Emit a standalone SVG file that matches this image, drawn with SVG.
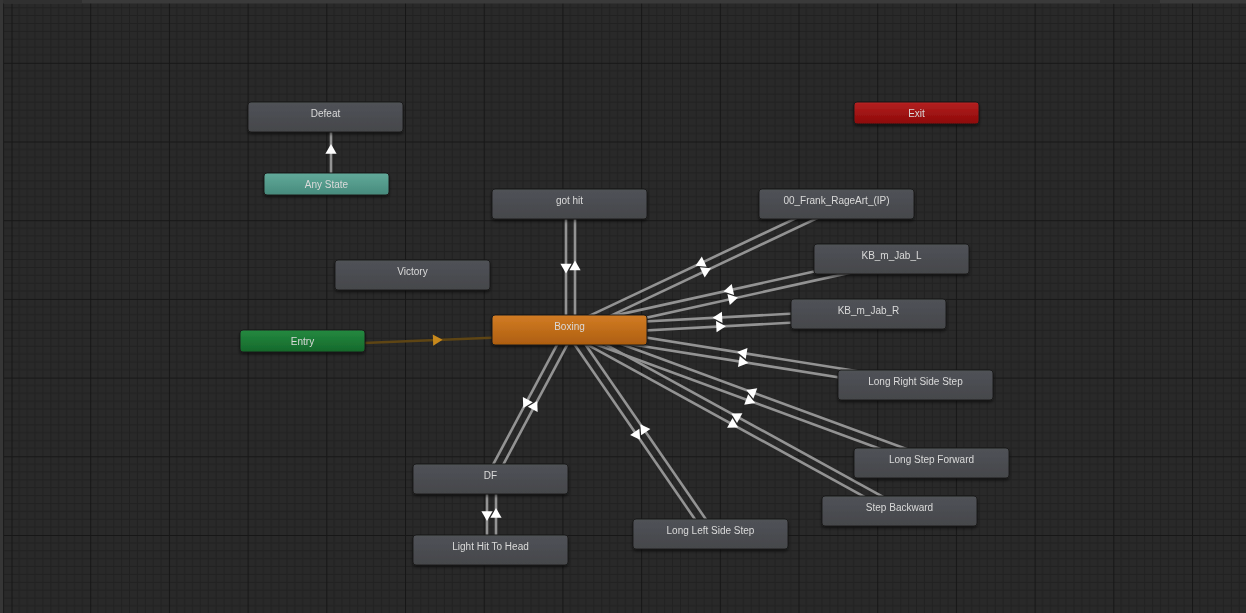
<svg xmlns="http://www.w3.org/2000/svg" xmlns:xlink="http://www.w3.org/1999/xlink" width="1246" height="613" viewBox="0 0 1246 613">
<style>
.b{stroke:#1d1d1d;stroke-width:1}
.t{font-family:"Liberation Sans",Arial,sans-serif;font-size:10px;fill:#dadada;text-anchor:middle}
.c line{stroke:#939393;stroke-width:2.6}
.c .e{stroke:#5e4514;stroke-width:2.4}
</style>
<defs>
<pattern id="grid" patternUnits="userSpaceOnUse" x="11.5" y="62.8" width="78.7" height="78.7">
<rect width="78.7" height="78.7" fill="#292929"/>
<path d="M7.87,0V78.7M15.74,0V78.7M23.61,0V78.7M31.48,0V78.7M39.35,0V78.7M47.22,0V78.7M55.09,0V78.7M62.96,0V78.7M70.83,0V78.7M0,7.87H78.7M0,15.74H78.7M0,23.61H78.7M0,31.48H78.7M0,39.35H78.7M0,47.22H78.7M0,55.09H78.7M0,62.96H78.7M0,70.83H78.7" stroke="#212121" stroke-width="1" fill="none"/>
<path d="M0.5,0V78.7M0,0.5H78.7" stroke="#171717" stroke-width="1.2" fill="none"/>
</pattern>
<linearGradient id="gGray" x1="0" y1="0" x2="0" y2="1"><stop offset="0" stop-color="#505257"/><stop offset="1" stop-color="#45474b"/></linearGradient>
<linearGradient id="gOrange" x1="0" y1="0" x2="0" y2="1"><stop offset="0" stop-color="#d27c24"/><stop offset="1" stop-color="#ad5e10"/></linearGradient>
<linearGradient id="gGreen" x1="0" y1="0" x2="0" y2="1"><stop offset="0" stop-color="#248a40"/><stop offset="1" stop-color="#15682b"/></linearGradient>
<linearGradient id="gTeal" x1="0" y1="0" x2="0" y2="1"><stop offset="0" stop-color="#62aa9a"/><stop offset="1" stop-color="#468a7c"/></linearGradient>
<linearGradient id="gRed" x1="0" y1="0" x2="0" y2="1"><stop offset="0" stop-color="#b52222"/><stop offset="1" stop-color="#8c0707"/></linearGradient>
<filter id="sh" x="-10%" y="-30%" width="120%" height="170%"><feDropShadow dx="0" dy="2" stdDeviation="1.5" flood-color="#000" flood-opacity="0.5"/></filter>
<path id="arr" d="M6.4,0L-3.2,-5.6L-3.2,5.6Z" fill="#ffffff"/>
<path id="arrE" d="M6.4,0L-3.2,-5.6L-3.2,5.6Z" fill="#c8891c"/>
</defs>
<rect width="1246" height="613" fill="url(#grid)"/>

<g id="connectors" class="c">
<line x1="331" y1="184" x2="331" y2="117"/>
<use xlink:href="#arr" transform="translate(331,150.5) rotate(-90)"/>
<line class="e" x1="302.7" y1="345.5" x2="569.7" y2="334.5"/>
<use xlink:href="#arrE" transform="translate(436.2,340) rotate(-2.36)"/>
<line x1="566" y1="204" x2="566" y2="330"/>
<line x1="575" y1="330" x2="575" y2="204"/>
<use xlink:href="#arr" transform="translate(566,267) rotate(90)"/>
<use xlink:href="#arr" transform="translate(575,267) rotate(-90)"/>
<line x1="571.92" y1="334.07" x2="838.42" y2="208.07"/>
<line x1="834.58" y1="199.93" x2="568.08" y2="325.93"/>
<use xlink:href="#arr" transform="translate(705.17,271.07) rotate(-25.3)"/>
<use xlink:href="#arr" transform="translate(701.33,262.93) rotate(154.7)"/>
<line x1="570.97" y1="334.39" x2="892.47" y2="263.39"/>
<line x1="890.53" y1="254.61" x2="569.03" y2="325.61"/>
<use xlink:href="#arr" transform="translate(731.72,298.89) rotate(-12.45)"/>
<use xlink:href="#arr" transform="translate(729.78,290.11) rotate(167.55)"/>
<line x1="570.24" y1="334.49" x2="868.74" y2="318.49"/>
<line x1="868.26" y1="309.51" x2="569.76" y2="325.51"/>
<use xlink:href="#arr" transform="translate(719.49,326.49) rotate(-3.07)"/>
<use xlink:href="#arr" transform="translate(719.01,317.51) rotate(176.93)"/>
<line x1="569.29" y1="334.44" x2="914.79" y2="389.44"/>
<line x1="916.21" y1="380.56" x2="570.71" y2="325.56"/>
<use xlink:href="#arr" transform="translate(742.04,361.94) rotate(9.05)"/>
<use xlink:href="#arr" transform="translate(743.46,353.06) rotate(-170.95)"/>
<line x1="568.45" y1="334.22" x2="929.95" y2="467.22"/>
<line x1="933.05" y1="458.78" x2="571.55" y2="325.78"/>
<use xlink:href="#arr" transform="translate(749.2,400.72) rotate(20.2)"/>
<use xlink:href="#arr" transform="translate(752.3,392.28) rotate(-159.8)"/>
<line x1="567.83" y1="333.94" x2="897.33" y2="514.94"/>
<line x1="901.67" y1="507.06" x2="572.17" y2="326.06"/>
<use xlink:href="#arr" transform="translate(732.58,424.44) rotate(28.78)"/>
<use xlink:href="#arr" transform="translate(736.92,416.56) rotate(-151.22)"/>
<line x1="566.29" y1="332.55" x2="706.79" y2="536.55"/>
<line x1="714.21" y1="531.45" x2="573.71" y2="327.45"/>
<use xlink:href="#arr" transform="translate(636.54,434.55) rotate(55.45)"/>
<use xlink:href="#arr" transform="translate(643.96,429.45) rotate(-124.55)"/>
<line x1="566.03" y1="327.88" x2="486.53" y2="476.88"/>
<line x1="494.47" y1="481.12" x2="573.97" y2="332.12"/>
<use xlink:href="#arr" transform="translate(526.28,402.38) rotate(118.08)"/>
<use xlink:href="#arr" transform="translate(534.22,406.62) rotate(-61.92)"/>
<line x1="487" y1="479" x2="487" y2="550"/>
<line x1="496" y1="550" x2="496" y2="479"/>
<use xlink:href="#arr" transform="translate(487,514.5) rotate(90)"/>
<use xlink:href="#arr" transform="translate(496,514.5) rotate(-90)"/>
</g>

<g id="node-defeat" filter="url(#sh)"><rect class="b" x="248" y="102" width="155" height="30" rx="3" fill="url(#gGray)"/><text class="t" x="325.5" y="117">Defeat</text></g>
<g id="node-anystate" filter="url(#sh)"><rect class="b" x="264" y="173" width="125" height="22" rx="3" fill="url(#gTeal)"/><text class="t" x="326.5" y="188">Any State</text></g>
<g id="node-exit" filter="url(#sh)"><rect class="b" x="854" y="102" width="125" height="22" rx="3" fill="url(#gRed)"/><text class="t" x="916.5" y="117">Exit</text></g>
<g id="node-gothit" filter="url(#sh)"><rect class="b" x="492" y="189" width="155" height="30" rx="3" fill="url(#gGray)"/><text class="t" x="569.5" y="204">got hit</text></g>
<g id="node-victory" filter="url(#sh)"><rect class="b" x="335" y="260" width="155" height="30" rx="3" fill="url(#gGray)"/><text class="t" x="412.5" y="275">Victory</text></g>
<g id="node-entry" filter="url(#sh)"><rect class="b" x="240" y="330" width="125" height="22" rx="3" fill="url(#gGreen)"/><text class="t" x="302.5" y="345">Entry</text></g>
<g id="node-boxing" filter="url(#sh)"><rect class="b" x="492" y="315" width="155" height="30" rx="3" fill="url(#gOrange)"/><text class="t" x="569.5" y="330">Boxing</text></g>
<g id="node-frank" filter="url(#sh)"><rect class="b" x="759" y="189" width="155" height="30" rx="3" fill="url(#gGray)"/><text class="t" x="836.5" y="204">00_Frank_RageArt_(IP)</text></g>
<g id="node-jabl" filter="url(#sh)"><rect class="b" x="814" y="244" width="155" height="30" rx="3" fill="url(#gGray)"/><text class="t" x="891.5" y="259">KB_m_Jab_L</text></g>
<g id="node-jabr" filter="url(#sh)"><rect class="b" x="791" y="299" width="155" height="30" rx="3" fill="url(#gGray)"/><text class="t" x="868.5" y="314">KB_m_Jab_R</text></g>
<g id="node-lrss" filter="url(#sh)"><rect class="b" x="838" y="370" width="155" height="30" rx="3" fill="url(#gGray)"/><text class="t" x="915.5" y="385">Long Right Side Step</text></g>
<g id="node-lsf" filter="url(#sh)"><rect class="b" x="854" y="448" width="155" height="30" rx="3" fill="url(#gGray)"/><text class="t" x="931.5" y="463">Long Step Forward</text></g>
<g id="node-sb" filter="url(#sh)"><rect class="b" x="822" y="496" width="155" height="30" rx="3" fill="url(#gGray)"/><text class="t" x="899.5" y="511">Step Backward</text></g>
<g id="node-df" filter="url(#sh)"><rect class="b" x="413" y="464" width="155" height="30" rx="3" fill="url(#gGray)"/><text class="t" x="490.5" y="479">DF</text></g>
<g id="node-lhth" filter="url(#sh)"><rect class="b" x="413" y="535" width="155" height="30" rx="3" fill="url(#gGray)"/><text class="t" x="490.5" y="550">Light Hit To Head</text></g>
<g id="node-llss" filter="url(#sh)"><rect class="b" x="633" y="519" width="155" height="30" rx="3" fill="url(#gGray)"/><text class="t" x="710.5" y="534">Long Left Side Step</text></g>

<rect x="0" y="0" width="1246" height="3.5" fill="#3a3a3a"/>
<rect x="0" y="0" width="82" height="3.5" fill="#303030"/>
<rect x="1100" y="0" width="60" height="3.5" fill="#303030"/>
<rect x="0" y="0" width="3" height="613" fill="#363636"/>
<rect x="3" y="3.5" width="1" height="610" fill="#1c1c1c"/>
</svg>
